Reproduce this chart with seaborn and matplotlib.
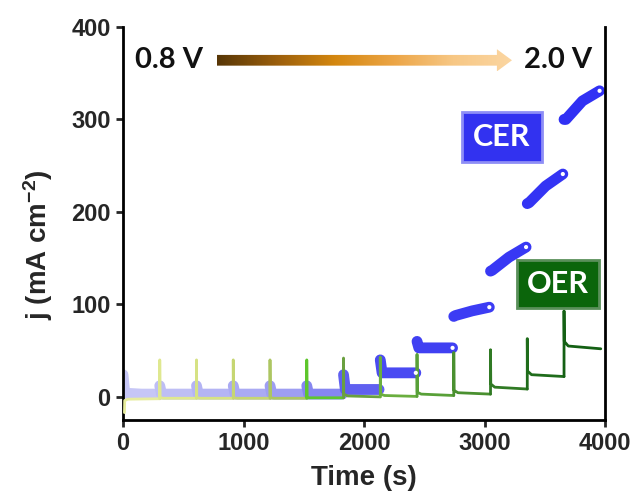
import numpy as np
import pandas as pd
import matplotlib
matplotlib.use("Agg")
import matplotlib.pyplot as plt
import seaborn as sns
from matplotlib.patches import Polygon
from matplotlib.colors import LinearSegmentedColormap

# ---------------- data ----------------
step_t = [0, 305, 610, 915, 1220, 1525, 1830, 2135, 2440, 2745, 3050, 3355, 3660]
step_end = [305, 610, 915, 1220, 1525, 1830, 2135, 2440, 2745, 3050, 3355, 3660, 3965]

# CER (blue): value of the start bump, start of plateau, mid value, end value
cer_bump = [24, 12, 12, 12, 12, 12, 24, 40, 60, 87, 136, 209, 300]
cer_start = [4, 3, 3, 3, 3, 3, 8, 26, 53, 88, 137, 210, 300]
cer_mid = [3, 3, 3, 3, 3, 3, 8, 26, 53, 93, 151, 228, 320]
cer_end = [3, 3, 3, 3, 3, 3, 8, 26, 53, 97, 162, 241, 331]

# OER (green): spike top, value right after the drop, value after the bend, end value
oer_spike = [-17, 40, 40, 40, 40, 40, 42, 43, 46, 48, 51, 63, 93]
oer_drop = [-4, -1, -1, -1, -1, -1, 3, 3, 5, 7, 14, 28, 60]
oer_knee = [-2.5, -1.5, -1.5, -1.5, -1.5, -1, 1, 1.5, 3, 4.5, 10.5, 24, 55]
oer_end = [-2, -1.5, -1.5, -1.5, -1.5, -1, 0, 0.5, 1.5, 3, 8.5, 22, 52]

cer_colors = ['#c6c6f6', '#bebef5', '#b4b4f4', '#aaaaf3', '#9e9ef2', '#8686f0',
              '#6060f0', '#4a4af2', '#4040f2', '#3c3cf4', '#3838f4', '#3434f4', '#3030f4']
oer_colors = ['#e6ec9c', '#dfe890', '#d6e284', '#c6d672', '#adc662', '#5ec62c',
              '#6aa040', '#6aae3e', '#58a038', '#4a9030', '#307a24', '#1f6c1b', '#146014']

x_ticks = [0, 1000, 2000, 3000, 4000]
y_ticks = [0, 100, 200, 300, 400]
v_labels = ["0.8 V", "2.0 V"]

# ---------------- style ----------------
sns.set_style("ticks")
plt.rcParams['font.family'] = ['Liberation Sans', 'DejaVu Sans']
plt.rcParams['font.weight'] = 'bold'
plt.rcParams['mathtext.fontset'] = 'custom'
plt.rcParams['mathtext.rm'] = 'Liberation Sans:bold'
plt.rcParams['mathtext.bf'] = 'Liberation Sans:bold'
plt.rcParams['mathtext.default'] = 'bf'

fig = plt.figure(figsize=(6.35, 4.95), dpi=100)
ax = fig.add_axes([123 / 635, 75 / 495, 482 / 635, 393 / 495])

# ---------------- CER (blue thick traces) ----------------
for i in range(len(step_t)):
    t0, t1 = step_t[i], step_end[i]
    xs = [t0, t0 + 15, (t0 + t1) / 2, t1 - 10]
    ys = [cer_bump[i], cer_start[i], cer_mid[i], cer_end[i]]
    df = pd.DataFrame({"t": xs, "j": ys})
    sns.lineplot(data=df, x="t", y="j", ax=ax, color=cer_colors[i], lw=7.8,
                 sort=False, estimator=None, solid_capstyle='round',
                 solid_joinstyle='round')
    if i >= 7:
        sns.scatterplot(x=[xs[-1]], y=[ys[-1]], ax=ax, color='white', s=9,
                        edgecolor='none', zorder=5)

# ---------------- OER (green traces) ----------------
prev = oer_spike[0]
for i in range(len(step_t)):
    t0, t1 = step_t[i], step_end[i]
    if i == 0:
        xs = [t0 + 12, t0 + 14, t0 + 40, t1]
        ys = [oer_spike[i], oer_drop[i], oer_knee[i], oer_end[i]]
    else:
        xs = [t0, t0, t0 + 2, t0 + 35, t1]
        ys = [prev, oer_spike[i], oer_drop[i], oer_knee[i], oer_end[i]]
    prev = oer_end[i]
    df = pd.DataFrame({"t": xs, "j": ys})
    sns.lineplot(data=df, x="t", y="j", ax=ax, color=oer_colors[i], lw=2.0,
                 sort=False, estimator=None, solid_joinstyle='round', zorder=4)

# ---------------- axes ----------------
ax.set_xlim(0, 4000)
ax.set_ylim(-25, 400)
ax.set_xticks(x_ticks)
ax.set_yticks(y_ticks)
ax.tick_params(axis='both', direction='out', length=5, width=2, labelsize=17,
               pad=4)
for lab in ax.get_xticklabels() + ax.get_yticklabels():
    lab.set_fontweight('bold')
for s in ['left', 'bottom', 'right']:
    ax.spines[s].set_linewidth(2)
    ax.spines[s].set_color('black')
ax.spines['top'].set_visible(False)

ax.set_xlabel("Time (s)", fontsize=20, fontweight='bold', va='center')
ax.xaxis.set_label_coords(0.5, -(478 - 420) / 393)
ax.set_ylabel("j (mA cm$^{-2}$)", fontsize=20, fontweight='bold', va='center')
ax.yaxis.set_label_coords(-(123 - 38) / 482, (420 - 245) / 393)

# ---------------- gradient arrow ----------------
xa0, xa1 = 780, 3228
head_len = 125
yc = 364
sh, hh = 5.8, 12
verts = [(xa0, yc - sh), (xa1 - head_len, yc - sh), (xa1 - head_len, yc - hh),
         (xa1, yc), (xa1 - head_len, yc + hh), (xa1 - head_len, yc + sh),
         (xa0, yc + sh)]
poly = Polygon(verts, closed=True, facecolor='none', edgecolor='none',
               transform=ax.transData)
ax.add_patch(poly)
cmap = LinearSegmentedColormap.from_list(
    "arr", ['#573606', '#9a5e0c', '#d4870f', '#eca546', '#f7c784', '#fbd6a2'])
grad = np.linspace(0, 1, 256).reshape(1, -1)
im = ax.imshow(grad, extent=[xa0, xa1, yc - hh, yc + hh], aspect='auto',
               cmap=cmap, zorder=3, interpolation='bicubic')
im.set_clip_path(poly)

ax.text(385, yc, v_labels[0], fontsize=21, fontweight='bold', ha='center',
        va='center', family=['Lato', 'DejaVu Sans'], color='#111111')
ax.text(3610, yc, v_labels[1], fontsize=21, fontweight='bold', ha='center',
        va='center', family=['Lato', 'DejaVu Sans'], color='#111111')

# ---------------- labels in boxes ----------------
ax.text(3145, 281, "CER", fontsize=22, fontweight='bold', ha='center',
        va='center', color='white', family=['Lato', 'DejaVu Sans'], zorder=6,
        bbox=dict(boxstyle='square,pad=0.36', facecolor='#3232f0',
                  edgecolor='#8e8ef6', lw=2))
ax.text(3610, 122, "OER", fontsize=22, fontweight='bold', ha='center',
        va='center', color='white', family=['Lato', 'DejaVu Sans'], zorder=6,
        bbox=dict(boxstyle='square,pad=0.32', facecolor='#0b650b',
                  edgecolor='#5a8f5a', lw=2))

fig.savefig("out.png", dpi=100)
